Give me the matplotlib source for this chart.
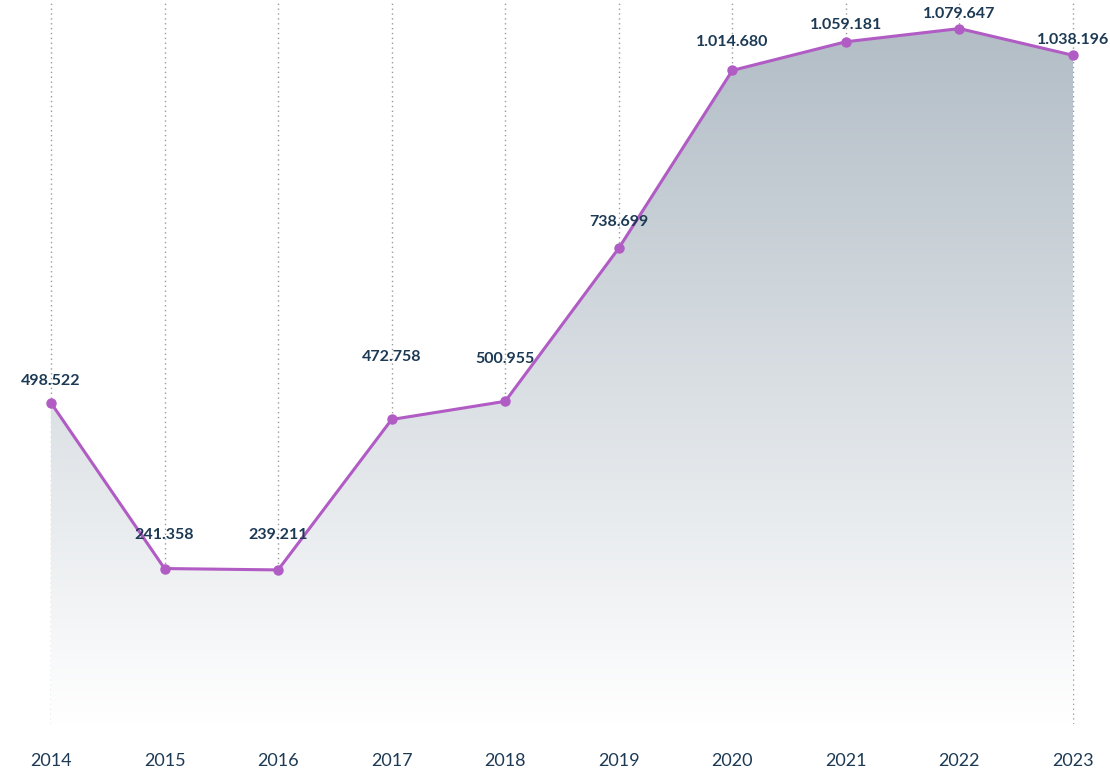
import numpy as np
import matplotlib
matplotlib.use("Agg")
import matplotlib.pyplot as plt
from matplotlib.colors import LinearSegmentedColormap

years = [2014, 2015, 2016, 2017, 2018, 2019, 2020, 2021, 2022, 2023]
values = [498522, 241358, 239211, 472758, 500955, 738699, 1014680, 1059181, 1079647, 1038196]
labels = ["498.522", "241.358", "239.211", "472.758", "500.955",
          "738.699", "1.014.680", "1.059.181", "1.079.647", "1.038.196"]

# vertical label offsets in pixels (labels were nudged apart in the original)
label_dy = [22, 34, 35, 62, 42, 26, 28, 17, 15, 15]

line_color = "#b05cc4"
text_color = "#1d3a55"
plt.rcParams['font.family'] = ['Lato', 'DejaVu Sans']

fig = plt.figure(figsize=(11.1, 7.69), dpi=100)
ax = fig.add_axes([0, 45 / 769, 1, 724 / 769])

x0, x1 = 2014 - 51 / 113.56, 2023 + 37 / 113.56
y0, y1 = 0, 1124000
ax.set_xlim(x0, x1)
ax.set_ylim(y0, y1)

# dotted vertical guides
for yr in years:
    ax.axvline(yr, color="#9a9a9a", lw=1, ls=(0, (1, 2.5)), zorder=1)

# gradient fill under the line
fill = ax.fill_between(years, values, 0, color="none", lw=0)
cmap = LinearSegmentedColormap.from_list("g", ["#ffffff", "#b2bdc6"])
grad = np.linspace(0, 1, 256).reshape(-1, 1)
img = ax.imshow(grad, cmap=cmap, aspect="auto", origin="lower",
                extent=[x0, x1, 0, max(values)], zorder=2)
path = fill.get_paths()[0]
img.set_clip_path(path, transform=ax.transData)

ax.plot(years, values, color=line_color, lw=2.2, marker="o", ms=6.5, zorder=4)

for yr, v, lab, dy in zip(years, values, labels, label_dy):
    ax.annotate(lab, (yr, v), xytext=(0, dy), textcoords="offset pixels",
                ha="center", va="center", fontsize=11.5, fontweight="bold",
                color=text_color, zorder=5)

ax.set_xticks(years)
ax.set_xticklabels([str(y) for y in years], fontsize=13, color=text_color)
ax.tick_params(axis="x", length=0, pad=21)
ax.set_yticks([])
for s in ax.spines.values():
    s.set_visible(False)

fig.savefig("out.png", dpi=100)
